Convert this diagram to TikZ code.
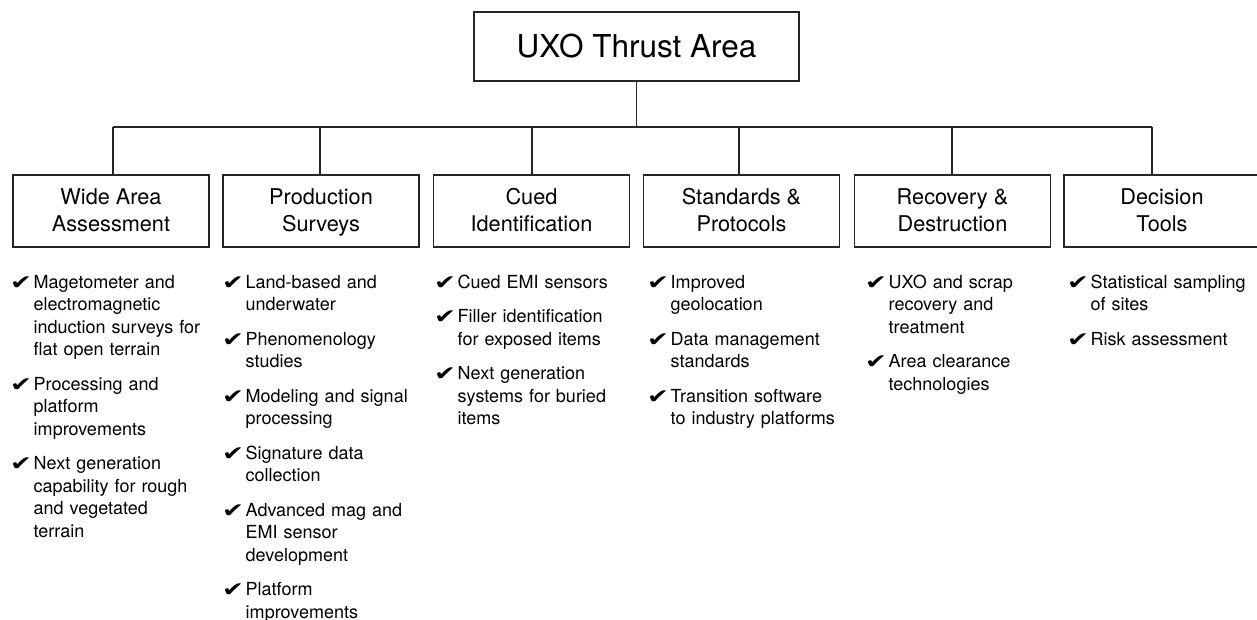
\documentclass[tikz,border=0pt]{standalone}
\usepackage{graphicx}
\usepackage{fontspec}
\setmainfont{TeX Gyre Heros}
\newfontfamily\ckfont{DejaVu Sans}
\newcommand\ckmark{\makebox[23.5pt][l]{\raisebox{-0.8pt}{\scalebox{1.45}[1.12]{\fontsize{18}{18}\ckfont\char"2714}}}}
\newcommand\itm[1]{\par\noindent\hangindent=23.5pt\hangafter=1\ckmark#1\par}
\newcommand\isep{\vskip 12pt}
\newcommand\bx[2]{\rule{0pt}{20pt}#1\\#2\rule[-5pt]{0pt}{5pt}}
\begin{document}
\begin{tikzpicture}[x=1pt,y=-1pt,
  frame/.style={draw=black!85, line width=1.5pt, fill=white, inner sep=0pt, align=center},
  topbox/.style={frame, minimum width=325pt, minimum height=69pt, font=\fontsize{31.5}{36}\selectfont},
  catbox/.style={frame, minimum width=196pt, minimum height=72pt, font=\fontsize{21.7}{27}\selectfont},
  conn/.style={draw=black!85, line width=1.5pt},
  itemlist/.style={anchor=north west, inner sep=0pt, text width=215pt, align=left, font=\fontsize{18}{22.5}\selectfont}
]
\useasboundingbox (0,0) rectangle (1257,620);

\node[topbox] (top) at (636.5,46.5) {UXO Thrust Area};

\node[catbox] (b1) at (111,211) {\bx{Wide Area}{Assessment}};
\node[catbox] (b2) at (321,211) {\bx{Production}{Surveys}};
\node[catbox] (b3) at (531.5,211) {\bx{Cued}{Identification}};
\node[catbox] (b4) at (741.5,211) {\bx{Standards \&}{Protocols}};
\node[catbox] (b5) at (952.5,211) {\bx{Recovery \&}{Destruction}};
\node[catbox] (b6) at (1162,211) {\bx{Decision}{Tools}};

\coordinate (j0) at (636.7,127);
\coordinate (c1) at (113,127);
\coordinate (c2) at (320,127);
\coordinate (c3) at (532,127);
\coordinate (c4) at (739,127);
\coordinate (c5) at (952,127);
\coordinate (c6) at (1152,127);

\draw[conn] (top.south -| j0) -- (j0);
\draw[conn] (c1) -- (c6);
\foreach \i in {1,...,6} \draw[conn] (c\i) -- (c\i |- b\i.north);

\node[itemlist] (l1) at (10,265.5) {%
\itm{\rule{0pt}{15pt}Magetometer and\newline electromagnetic\newline induction surveys for\newline flat open terrain}\isep
\itm{Processing and\newline platform\newline improvements}\isep
\itm{Next generation\newline capability for rough\newline and vegetated\newline terrain}};

\node[itemlist] (l2) at (222,265.5) {%
\itm{\rule{0pt}{15pt}Land-based and\newline underwater}\isep
\itm{Phenomenology\newline studies}\isep
\itm{Modeling and signal\newline processing}\isep
\itm{Signature data\newline collection}\isep
\itm{Advanced mag and\newline EMI sensor\newline development}\isep
\itm{Platform\newline improvements}};

\node[itemlist] (l3) at (434,265.5) {%
\itm{\rule{0pt}{15pt}Cued EMI sensors}\isep
\itm{Filler identification\newline for exposed items}\isep
\itm{Next generation\newline systems for buried\newline items}};

\node[itemlist] (l4) at (647,265.5) {%
\itm{\rule{0pt}{15pt}Improved\newline geolocation}\isep
\itm{Data management\newline standards}\isep
\itm{Transition software\newline to industry platforms}};

\node[itemlist] (l5) at (865,265.5) {%
\itm{\rule{0pt}{15pt}UXO and scrap\newline recovery and\newline treatment}\isep
\itm{Area clearance\newline technologies}};

\node[itemlist] (l6) at (1067,265.5) {%
\itm{\rule{0pt}{15pt}Statistical sampling\newline of sites}\isep
\itm{Risk assessment}};
\end{tikzpicture}
\end{document}
